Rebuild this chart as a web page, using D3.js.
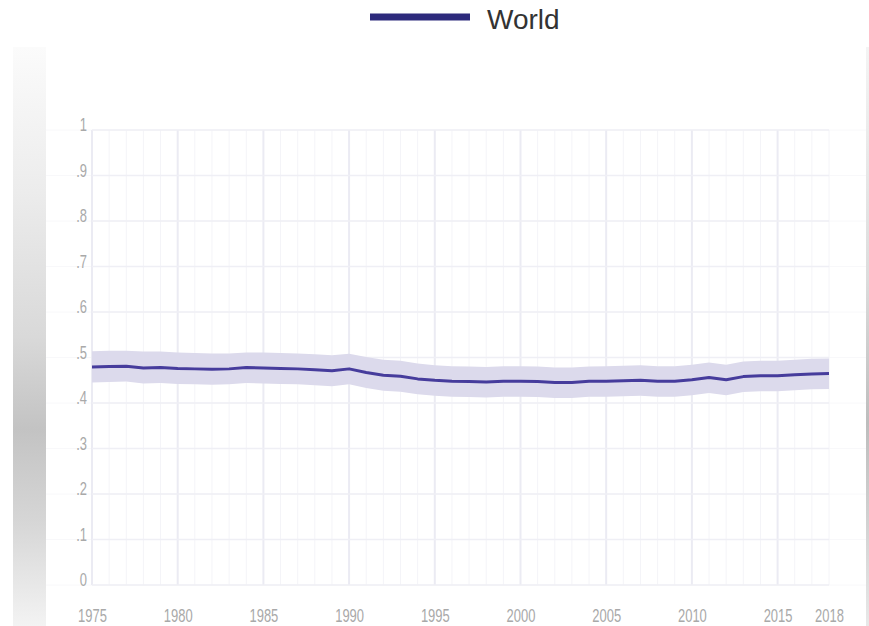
<!DOCTYPE html>
<html>
<head>
<meta charset="utf-8">
<script src="https://cdn.jsdelivr.net/npm/d3@7"></script>
<style>
  html, body { margin: 0; padding: 0; background: #ffffff; }
  svg { display: block; }
</style>
</head>
<body>
<svg id="chart" width="869" height="626"></svg>
<script>
// ---- data ----
const years = d3.range(1975, 2019);
const worldValues = [
  0.479, 0.480, 0.481, 0.477, 0.478, 0.476, 0.475, 0.474, 0.475, 0.478,
  0.477, 0.476, 0.475, 0.473, 0.471, 0.475, 0.467, 0.461, 0.459, 0.453,
  0.450, 0.448, 0.447, 0.446, 0.448, 0.448, 0.447, 0.445, 0.445, 0.448,
  0.448, 0.449, 0.450, 0.448, 0.448, 0.451, 0.456, 0.451, 0.458, 0.460,
  0.460, 0.462, 0.464, 0.465
];
const worldUpper = [
  0.514, 0.515, 0.515, 0.513, 0.513, 0.511, 0.510, 0.509, 0.509, 0.511,
  0.511, 0.510, 0.509, 0.507, 0.505, 0.508, 0.501, 0.495, 0.493, 0.487,
  0.483, 0.481, 0.480, 0.479, 0.481, 0.481, 0.480, 0.478, 0.478, 0.480,
  0.481, 0.482, 0.483, 0.481, 0.481, 0.484, 0.489, 0.484, 0.491, 0.493,
  0.493, 0.495, 0.497, 0.498
];
const worldLower = [
  0.445, 0.446, 0.447, 0.443, 0.444, 0.442, 0.441, 0.440, 0.441, 0.444,
  0.443, 0.442, 0.441, 0.439, 0.437, 0.441, 0.433, 0.427, 0.425, 0.419,
  0.416, 0.414, 0.413, 0.412, 0.414, 0.414, 0.413, 0.411, 0.411, 0.414,
  0.414, 0.415, 0.416, 0.414, 0.414, 0.417, 0.422, 0.417, 0.424, 0.426,
  0.426, 0.428, 0.430, 0.431
];
const xTickValues = [1975, 1980, 1985, 1990, 1995, 2000, 2005, 2010, 2015, 2018];
const yTickValues = [0, 0.1, 0.2, 0.3, 0.4, 0.5, 0.6, 0.7, 0.8, 0.9, 1];
const yTickLabels = ["0", ".1", ".2", ".3", ".4", ".5", ".6", ".7", ".8", ".9", "1"];
const seriesName = "World";

const rows = years.map((y, i) => ({ year: y, v: worldValues[i], lo: worldLower[i], hi: worldUpper[i] }));

// ---- layout ----
const svg = d3.select("#chart");
const W = 869, H = 626;
const plot = { left: 92, right: 829, top: 130, bottom: 585 };

const x = d3.scaleLinear().domain([1975, 2018]).range([plot.left, plot.right]);
const y = d3.scaleLinear().domain([0, 1]).range([plot.bottom, plot.top]);

const defs = svg.append("defs");
const gL = defs.append("linearGradient").attr("id", "leftbar").attr("x1", 0).attr("y1", 0).attr("x2", 0).attr("y2", 1);
[[0, "#fbfbfb"], [0.25, "#ececec"], [0.5, "#d9d9d9"], [0.66, "#c3c3c3"], [0.82, "#d6d6d6"], [1, "#f3f3f3"]]
  .forEach(([o, c]) => gL.append("stop").attr("offset", o).attr("stop-color", c));
const gR = defs.append("linearGradient").attr("id", "rightbar").attr("x1", 0).attr("y1", 0).attr("x2", 0).attr("y2", 1);
[[0, "#f4f4f4"], [0.4, "#dcdcdc"], [0.65, "#bdbdbd"], [1, "#e8e8e8"]]
  .forEach(([o, c]) => gR.append("stop").attr("offset", o).attr("stop-color", c));

// side bars (screenshot frame)
svg.append("rect").attr("x", 13).attr("y", 47).attr("width", 33).attr("height", H - 47).attr("fill", "url(#leftbar)");
svg.append("rect").attr("x", 866).attr("y", 47).attr("width", 3).attr("height", H - 47).attr("fill", "url(#rightbar)");

// faint full-width guide lines
svg.append("g").selectAll("line").data(yTickValues).join("line")
  .attr("x1", 46).attr("x2", 866)
  .attr("y1", d => y(d)).attr("y2", d => y(d))
  .attr("stroke", "#f8f8fa").attr("stroke-width", 1);

// grid
const grid = svg.append("g");
grid.selectAll("line.v").data(years).join("line")
  .attr("class", "v")
  .attr("x1", d => x(d)).attr("x2", d => x(d))
  .attr("y1", plot.top).attr("y2", plot.bottom)
  .attr("stroke", d => (d - 1975) % 5 === 0 ? "#ebebf3" : "#f4f4f8")
  .attr("stroke-width", d => (d - 1975) % 5 === 0 ? 2 : 1);
grid.selectAll("line.h").data(yTickValues).join("line")
  .attr("class", "h")
  .attr("x1", plot.left).attr("x2", plot.right)
  .attr("y1", d => y(d)).attr("y2", d => y(d))
  .attr("stroke", "#efeff5").attr("stroke-width", 1.5);

// band
svg.append("path").datum(rows)
  .attr("fill", "#dcdaec")
  .attr("d", d3.area().x(d => x(d.year)).y0(d => y(d.lo)).y1(d => y(d.hi)));

// line
svg.append("path").datum(rows)
  .attr("fill", "none")
  .attr("stroke", "#463c9c")
  .attr("stroke-width", 3)
  .attr("stroke-linejoin", "round")
  .attr("d", d3.line().x(d => x(d.year)).y(d => y(d.v)));

// axes
const fontFam = "'Liberation Sans', Arial, sans-serif";
const xAxis = svg.append("g").attr("transform", `translate(0,${plot.bottom})`)
  .call(d3.axisBottom(x).tickValues(xTickValues).tickFormat(d3.format("d")).tickSize(0).tickPadding(0));
xAxis.select(".domain").remove();
xAxis.selectAll("text")
  .attr("y", 37).attr("dy", 0)
  .attr("transform", "scale(0.72,1)")
  .attr("fill", "#a9a9a9")
  .attr("font-size", 18).attr("font-family", fontFam);

const yAxis = svg.append("g").attr("transform", `translate(${plot.left},0)`)
  .call(d3.axisLeft(y).tickValues(yTickValues).tickFormat((d, i) => yTickLabels[i]).tickSize(0).tickPadding(0));
yAxis.select(".domain").remove();
yAxis.selectAll("text")
  .attr("x", -5 / 0.72).attr("dy", "0.05em")
  .attr("transform", "scale(0.72,1)")
  .attr("fill", "#a9a9a9")
  .attr("font-size", 18).attr("font-family", fontFam);

// legend
const lg = svg.append("g");
lg.append("line").attr("x1", 370).attr("x2", 470).attr("y1", 17).attr("y2", 17)
  .attr("stroke", "#2d2a7c").attr("stroke-width", 7);
lg.append("text").attr("x", 487).attr("y", 29).text(seriesName)
  .attr("font-family", fontFam).attr("font-size", 28).attr("fill", "#333333");
</script>
</body>
</html>
